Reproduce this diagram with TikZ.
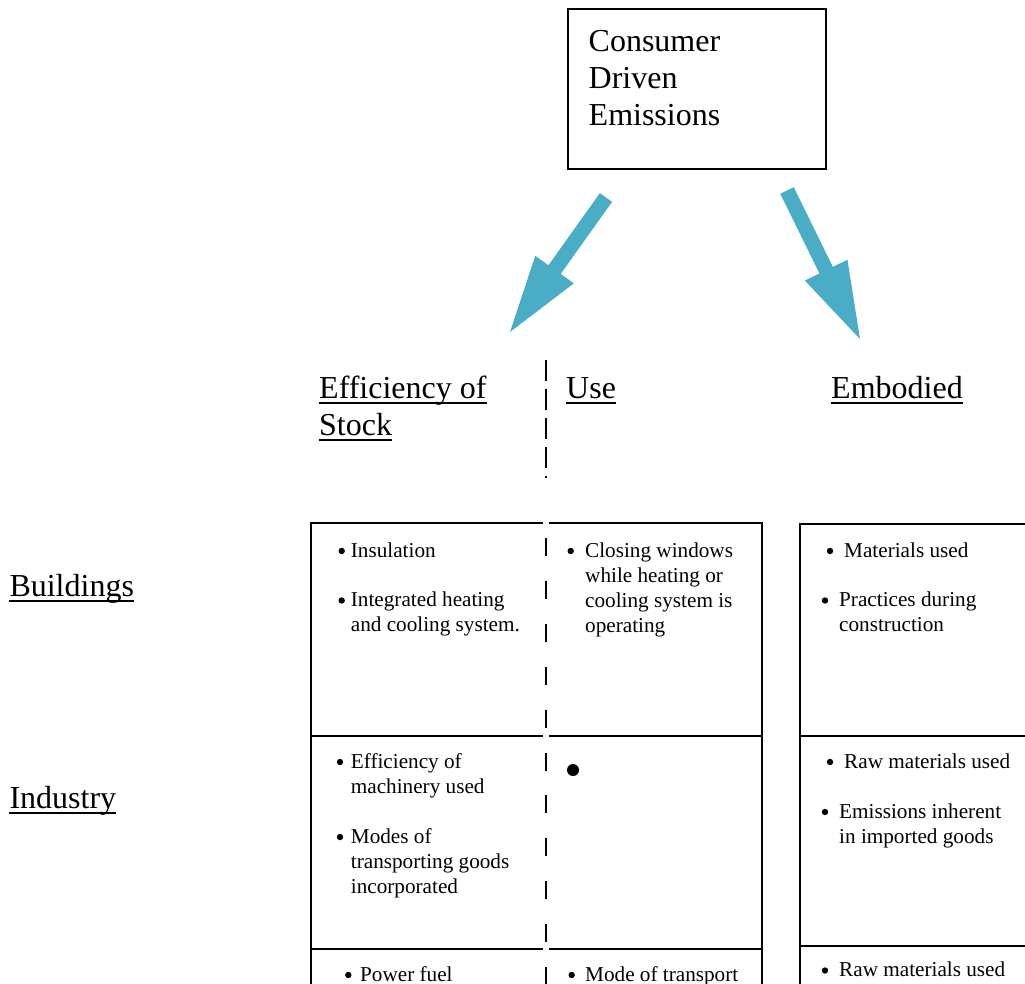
\documentclass[tikz,border=0pt]{standalone}
\usepackage{fontspec}
\setmainfont{Liberation Serif}
\usetikzlibrary{calc}
\definecolor{arrowblue}{HTML}{4BACC6}
\newcommand\fatarrow[2]{%
  \coordinate (#2-h) at ($(#2)!76.7pt!(#1)$);
  \fill[arrowc] ($(#1)!7.5pt!90:(#2)$) -- ($(#2-h)!7.5pt!90:(#2)$) -- ($(#2-h)!23.7pt!90:(#2)$)
     -- (#2) -- ($(#2-h)!23.7pt!-90:(#2)$) -- ($(#2-h)!7.5pt!-90:(#2)$) -- ($(#1)!7.5pt!-90:(#2)$) -- cycle;}
\begin{document}
\begin{tikzpicture}[x=1pt,y=-1pt,
  big/.style={font=\fontsize{32}{37}\selectfont, inner sep=0pt, anchor=base west},
  small/.style={font=\fontsize{21.2}{25}\selectfont, inner sep=0pt, anchor=base west},
  ul/.style={line width=1.8pt},
  grid/.style={line width=2pt},
  dashv/.style={line width=2pt},
  arrowc/.style={fill=arrowblue},
  bul/.style={fill=black}]
\useasboundingbox (0,0) rectangle (1025,983);
\clip (0,0) rectangle (1025,983);

% top box
\node[draw, line width=1.8pt, minimum width=258pt, minimum height=160pt, inner sep=0pt] (cde) at (697,89) {};
\node[big] (c1) at (588.5,51) {Consumer};
\node[big] (c2) at (588.5,88) {Driven};
\node[big] (c3) at (588.5,125) {Emissions};

% arrows
\coordinate (la-s) at (606,197.5);
\coordinate (la-e) at (510,332);
\coordinate (ra-s) at (787,190.5);
\coordinate (ra-e) at (860,339);
\fatarrow{la-s}{la-e}
\fatarrow{ra-s}{ra-e}

% headings
\node[big] (h1) at (319,398) {Efficiency of};
\node[big] (h1b) at (319,435) {Stock};
\node[big] (h2) at (566,398) {Use};
\node[big] (h3) at (831,398) {Embodied};
\node[big] (r1) at (9.3,596) {Buildings};
\node[big] (r2) at (9.3,808.3) {Industry};
\foreach \n in {h1,h1b,h2,h3,r1,r2}
  \draw[ul] ([yshift=-4.6pt]\n.base west) -- ([yshift=-4.6pt]\n.base east);

% dashed divider above the table
\coordinate (d1) at (545.5,360);
\coordinate (d2) at (545.5,478);
\draw[dashv, dash pattern=on 21pt off 8pt] (d1) -- (d2);

% left table
\draw[grid] (311,522.3) -- (311,990);
\draw[grid] (762,522.3) -- (762,990);
\foreach \yy in {523.3,735.5,949} {
  \draw[grid] (310,\yy) -- (543,\yy);
  \draw[grid] (549,\yy) -- (763,\yy);
}
\coordinate (d3) at (546,538);
\coordinate (d4) at (546,995);
\draw[dashv, dash pattern=on 18pt off 24.9pt] (d3) -- (d4);

% right table
\draw[grid] (800,523) -- (800,990);
\foreach \yy in {524,736,946}
  \draw[grid] (799,\yy) -- (1030,\yy);

% cell contents
\fill[bul] (341.7,551) circle (3.2pt);
\node[small] (b1a) at (350.7,557) {Insulation};
\fill[bul] (341.7,600.5) circle (3.2pt);
\node[small] (b1b) at (350.7,606.5) {Integrated heating};
\node[small] (b1c) at (350.7,631.5) {and cooling system.};

\fill[bul] (570.7,551) circle (3.2pt);
\foreach \t [count=\i from 0] in {Closing windows,while heating or,cooling system is,operating}
  \node[small] (b2-\i) at (585,557+25*\i) {\t};

\fill[bul] (830,551) circle (3.2pt);
\node[small] (b3a) at (844,557) {Materials used};
\fill[bul] (825,600.5) circle (3.2pt);
\node[small] (b3b) at (839,606.5) {Practices during};
\node[small] (b3c) at (839,631.5) {construction};

\fill[bul] (340,762) circle (3.2pt);
\node[small] (i1a) at (350.7,768) {Efficiency of};
\node[small] (i1b) at (350.7,793) {machinery used};
\fill[bul] (340,837) circle (3.2pt);
\node[small] (i1c) at (350.7,843) {Modes of};
\node[small] (i1d) at (350.7,868) {transporting goods};
\node[small] (i1e) at (350.7,893) {incorporated};

\fill[bul] (573,770) circle (6pt);

\fill[bul] (830,762) circle (3.2pt);
\node[small] (i3a) at (844,768) {Raw materials used};
\fill[bul] (825,812) circle (3.2pt);
\node[small] (i3b) at (839,818) {Emissions inherent};
\node[small] (i3c) at (839,843) {in imported goods};

\fill[bul] (348.3,975) circle (3.2pt);
\node[small] (t1) at (360,981) {Power fuel};
\fill[bul] (571.7,975) circle (3.2pt);
\node[small] (t2) at (585,981) {Mode of transport};
\fill[bul] (825,970.5) circle (3.2pt);
\node[small] (t3) at (839,976.5) {Raw materials used};
\end{tikzpicture}
\end{document}
